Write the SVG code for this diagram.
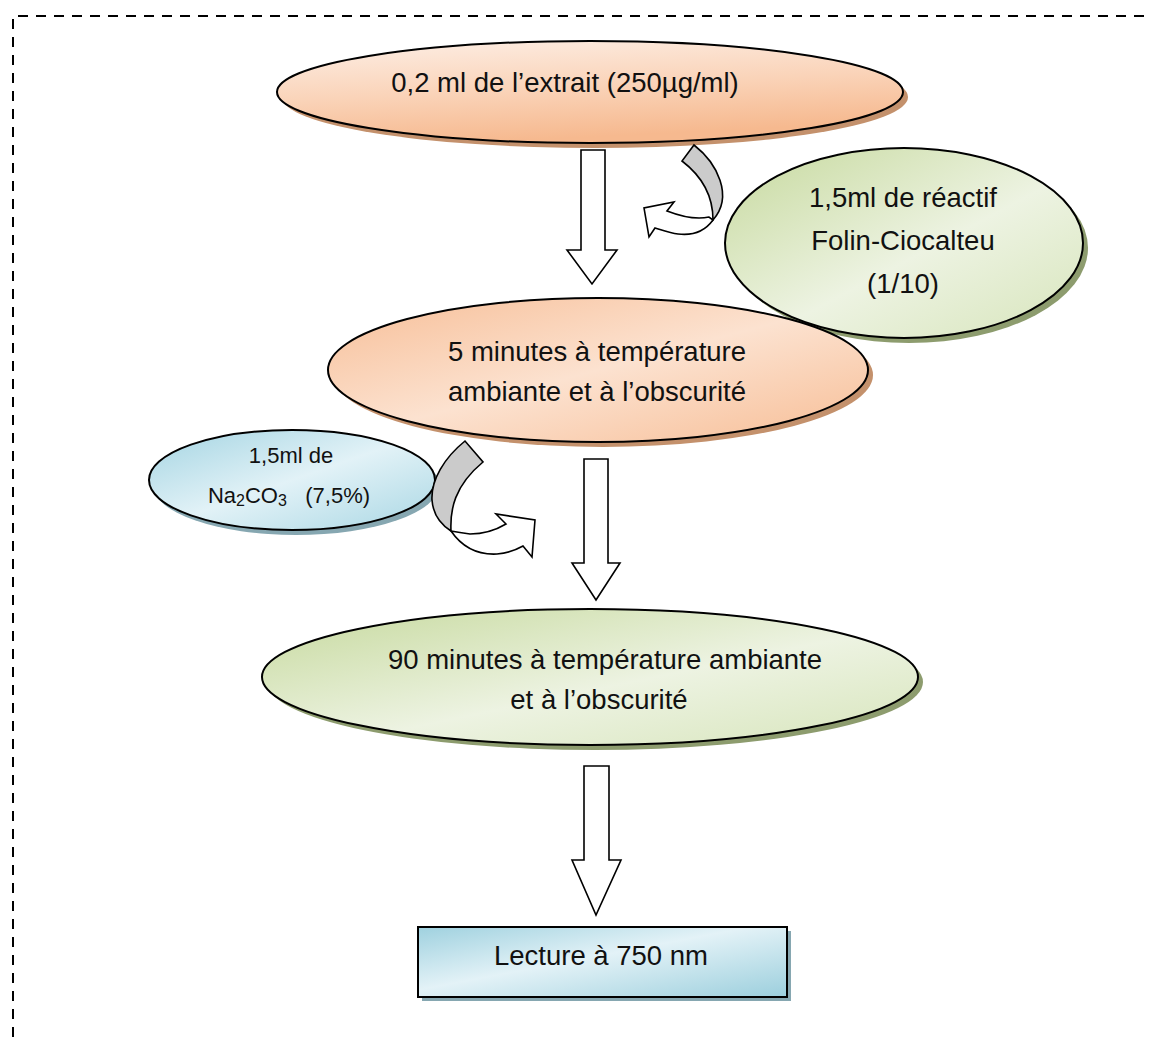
<svg xmlns="http://www.w3.org/2000/svg" width="1149" height="1037" viewBox="0 0 1149 1037">
<defs>
<linearGradient id="gPeach" x1="0" y1="0" x2="0.3" y2="1">
<stop offset="0" stop-color="#fdefe6"/><stop offset="0.55" stop-color="#fad3b8"/><stop offset="1" stop-color="#f6b98f"/>
</linearGradient>
<linearGradient id="gPeach2" x1="0" y1="0" x2="1" y2="1">
<stop offset="0" stop-color="#f7be97"/><stop offset="0.5" stop-color="#fce2d0"/><stop offset="1" stop-color="#f7bd95"/>
</linearGradient>
<linearGradient id="gGreen" x1="0" y1="0" x2="1" y2="1">
<stop offset="0" stop-color="#c6d99d"/><stop offset="0.55" stop-color="#edf3e2"/><stop offset="1" stop-color="#d7e5bb"/>
</linearGradient>
<linearGradient id="gBlue" x1="0" y1="0" x2="1" y2="1">
<stop offset="0" stop-color="#a3d4e2"/><stop offset="0.5" stop-color="#e2f2f7"/><stop offset="1" stop-color="#a9d7e4"/>
</linearGradient>
<linearGradient id="gBlueR" x1="0" y1="0" x2="1" y2="1">
<stop offset="0" stop-color="#9fd1df"/><stop offset="0.45" stop-color="#e3f2f7"/><stop offset="1" stop-color="#9ccfdd"/>
</linearGradient>
</defs>
<style>
.frame{fill:none;stroke:#000;stroke-width:2;stroke-dasharray:10 8}
.shape{stroke:#000;stroke-width:2}
.arrow{fill:#fff;stroke:#000;stroke-width:1.6;stroke-linejoin:miter}
.band{fill:#cbcbcb;stroke:#000;stroke-width:1.6}
.t{font-family:"Liberation Sans",Arial,sans-serif;font-size:27.5px;fill:#111;text-anchor:middle}
.ts{font-family:"Liberation Sans",Arial,sans-serif;font-size:22px;fill:#111;text-anchor:middle;white-space:pre}
.shP{fill:#c4916c}
.shG{fill:#8d9c6e}
.shB{fill:#86a7b1}
</style>

<g id="frame">
<path class="frame" d="M13,1037 L13,16 L1149,16"/>
</g>

<g id="node-extrait">
<ellipse class="shP" cx="595" cy="97" rx="313" ry="51"/>
<ellipse class="shape" cx="590" cy="92" rx="313" ry="51" fill="url(#gPeach)"/>
<text class="t" x="565" y="92">0,2 ml de l’extrait (250µg/ml)</text>
</g>

<g id="node-folin">
<ellipse class="shG" cx="909" cy="248" rx="179" ry="95"/>
<ellipse class="shape" cx="904" cy="243" rx="179" ry="95" fill="url(#gGreen)"/>
<text class="t" x="903" y="207">1,5ml de réactif</text>
<text class="t" x="903" y="250">Folin-Ciocalteu</text>
<text class="t" x="903" y="293">(1/10)</text>
</g>

<g id="node-5min">
<ellipse class="shP" cx="603" cy="375" rx="270" ry="72"/>
<ellipse class="shape" cx="598" cy="370" rx="270" ry="72" fill="url(#gPeach2)"/>
<text class="t" x="597" y="361">5 minutes à température</text>
<text class="t" x="597" y="401">ambiante et à l’obscurité</text>
</g>

<g id="node-na2co3">
<ellipse class="shB" cx="296" cy="485" rx="143" ry="50"/>
<ellipse class="shape" cx="292" cy="480" rx="143" ry="50" fill="url(#gBlue)"/>
<text class="ts" x="291" y="463">1,5ml de</text>
<text class="ts" x="289" y="503">Na<tspan font-size="16" dy="3">2</tspan><tspan dy="-3">CO</tspan><tspan font-size="16" dy="3">3</tspan><tspan dy="-3">   (7,5%)</tspan></text>
</g>

<g id="node-90min">
<ellipse class="shG" cx="595" cy="682" rx="328" ry="68"/>
<ellipse class="shape" cx="590" cy="677" rx="328" ry="68" fill="url(#gGreen)"/>
<text class="t" x="605" y="669">90 minutes à température ambiante</text>
<text class="t" x="599" y="709">et à l’obscurité</text>
</g>

<g id="node-lecture">
<rect class="shB" x="422" y="931" width="369" height="70"/>
<rect class="shape" x="418" y="927" width="369" height="70" fill="url(#gBlueR)"/>
<text class="t" x="601" y="965">Lecture à 750 nm</text>
</g>

<g id="connectors">
<polygon class="arrow" points="581,150 605,150 605,250 617,250 592,284 567,250 581,250"/>
<polygon class="arrow" points="584,459 608,459 608,563 620,563 596,600 572,563 584,563"/>
<polygon class="arrow" points="584,766 609,766 609,860 621,860 596,915 572,860 584,860"/>

<path class="band" d="M694,145 C717,163 734,196 713,220 C713,196 703,177 682,161 Z"/>
<path class="arrow" d="M713,220 C705,231 694,236 678,234 C669,233 662,230 655,228 L649,237 L644,208 L674,202 L667,211 C680,216 696,220 709,217 Z"/>

<path class="band" d="M465,441 C444,458 431,480 432,500 C433,514 440,524 451,531 C450,510 454,486 483,462 Z"/>
<path class="arrow" d="M451,531 C462,547 478,555 497,554 C508,553 516,550 523,546 L532,557 L535,520 L496,514 L506,524 C496,530 484,534 470,534 C462,533 456,532 451,531 Z"/>
</g>
</svg>
